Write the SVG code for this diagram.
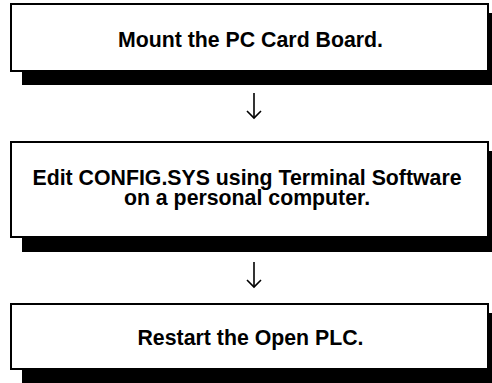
<svg xmlns="http://www.w3.org/2000/svg" width="492" height="383" viewBox="0 0 492 383">
<style>
.shadow{fill:#000}
.box{fill:#fff;stroke:#000;stroke-width:2}
.t{font-family:"Liberation Sans",Arial,sans-serif;font-weight:bold;font-size:21.3px;fill:#000;text-anchor:middle}
.c{fill:none;stroke:#000;stroke-width:1.6}
</style>
<rect width="492" height="383" fill="#fff"/>
<g id="node1">
<rect class="shadow" x="22" y="13" width="480" height="72"/>
<rect class="box" x="11" y="4" width="477" height="67"/>
<text class="t" x="250.5" y="46.5">Mount the PC Card Board.</text>
</g>
<g id="node2">
<rect class="shadow" x="22" y="151" width="480" height="101"/>
<rect class="box" x="11" y="142" width="477" height="95"/>
<text class="t" x="247" y="185">Edit CONFIG.SYS using Terminal Software</text>
<text class="t" x="247" y="204.5">on a personal computer.</text>
</g>
<g id="node3">
<rect class="shadow" x="22" y="313" width="480" height="80"/>
<rect class="box" x="11" y="304" width="477" height="65"/>
<text class="t" x="250.5" y="345">Restart the Open PLC.</text>
</g>
<g id="connectors">
<line class="c" x1="254" y1="93" x2="254" y2="118"/>
<polyline class="c" points="247,111 254,118 261,111"/>
<line class="c" x1="254" y1="262" x2="254" y2="287"/>
<polyline class="c" points="247,280 254,287 261,280"/>
</g>
</svg>
